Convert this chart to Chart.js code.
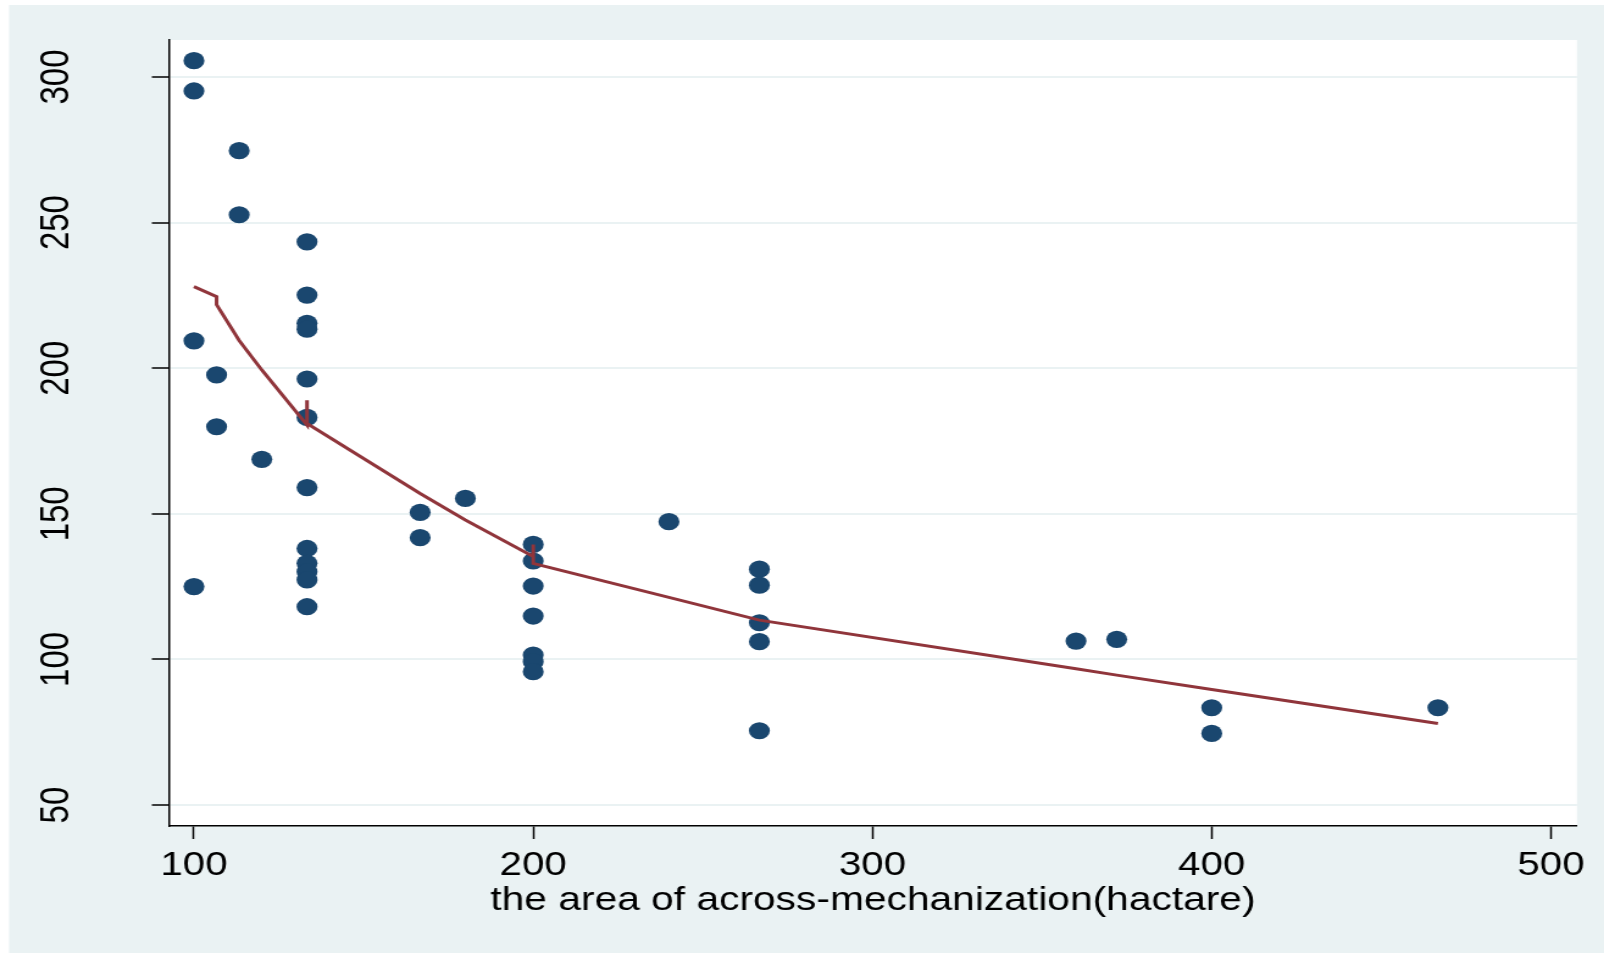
<!DOCTYPE html>
<html>
<head>
<meta charset="utf-8">
<script src="https://cdn.jsdelivr.net/npm/chart.js@4.4.1/dist/chart.umd.min.js"></script>
<style>
  html, body { margin: 0; padding: 0; background: #ffffff; overflow: hidden; }
  /* the original graph is stretched sideways, so the canvas is too */
  #myChart { display: block; transform: scaleX(1.2198); transform-origin: 0 0; }
</style>
</head>
<body>
<canvas id="myChart" width="1315" height="953"></canvas>
<script>
// observed points (area, value)
const pointX = [100, 100, 100, 100,
  106.67, 106.67,
  113.33, 113.33,
  120,
  133.33, 133.33, 133.33, 133.33, 133.33, 133.33, 133.33, 133.33, 133.33, 133.33, 133.33, 133.33,
  166.67, 166.67,
  180,
  200, 200, 200, 200, 200, 200, 200,
  240,
  266.67, 266.67, 266.67, 266.67, 266.67,
  360, 372,
  400, 400,
  466.67];
const pointY = [305.6, 295.2, 209.4, 125,
  197.7, 179.9,
  274.7, 252.7,
  168.7,
  243.4, 225.1, 215.4, 213.4, 196.3, 183.1, 159, 138.1, 133, 130.1, 127.3, 118.1,
  150.5, 141.8,
  155.3,
  139.5, 133.8, 125.2, 114.9, 101.5, 99.2, 95.8,
  147.3,
  131, 125.5, 112.6, 106.1, 75.5,
  106.3, 106.9,
  83.4, 74.6,
  83.4];

// fitted values (line), in plotting order
const fitX = [100, 106.67, 106.67, 113.33, 120, 133.33, 133.33, 133.33, 166.67, 180, 200, 200, 200, 240, 266.67, 360, 372, 400, 466.67];
const fitY = [228, 224.6, 221.8, 209.5, 199.4, 180.5, 189, 181, 157, 147.9, 135.3, 139.5, 133, 121.3, 113.5, 96.8, 94.6, 89.7, 78];

const xTicks = [100, 200, 300, 400, 500];
const yTicks = [50, 100, 150, 200, 250, 300];
const xTitle = 'the area of across-mechanization(hactare)';

var scatterData = [];
for (var i = 0; i < pointX.length; i++) {
	scatterData.push({ x : pointX[i], y : pointY[i] });
}
var fitData = [];
for (var j = 0; j < fitX.length; j++) {
	fitData.push({ x : fitX[j], y : fitY[j] });
}

// outer grey-blue background and white plot region
var bgPlugin = {
	id : 'bg',
	beforeDraw : function(chart) {
		var c = chart.ctx;
		var a = chart.chartArea;
		c.save();
		c.fillStyle = '#eaf2f3';
		c.fillRect(7.4, 5, chart.width, chart.height);
		c.fillStyle = '#ffffff';
		c.fillRect(a.left, a.top, a.right - a.left, a.bottom - a.top);
		c.restore();
	}
};

var font = { family : "'Liberation Sans', Arial, sans-serif", size : 33 };
var titleFont = { family : "'Liberation Sans', Arial, sans-serif", size : 33.4 };

var ctx = document.getElementById('myChart').getContext('2d');
var chart = new Chart(ctx, {
	type : 'scatter',
	data : {
		datasets : [ {
			type : 'line',
			data : fitData,
			borderColor : '#90353b',
			borderWidth : 3,
			pointRadius : 0,
			fill : false,
			tension : 0,
			order : 1
		}, {
			type : 'scatter',
			data : scatterData,
			backgroundColor : '#1a476f',
			borderWidth : 0,
			pointRadius : 8.6,
			pointHoverRadius : 8.6,
			order : 2
		} ]
	},
	options : {
		responsive : false,
		animation : false,
		layout : { padding : { left : 0, top : 40, right : 22.2, bottom : 0 } },
		plugins : { legend : { display : false }, tooltip : { enabled : false } },
		scales : {
			x : {
				type : 'linear',
				min : 92.63,
				max : 507.66,
				afterBuildTicks : function(s) {
					s.ticks = xTicks.map(function(v) { return { value : v }; });
				},
				afterFit : function(s) {
					s.height = 127;
					s.paddingLeft = 0;
					s.paddingRight = 0;
				},
				ticks : { font : font, color : '#000', padding : 7, maxRotation : 0 },
				grid : { drawOnChartArea : false, drawTicks : true, tickLength : 13, tickColor : '#000', tickWidth : 1.5 },
				border : { display : true, color : '#000', width : 1.5 },
				title : { display : true, text : xTitle, font : titleFont, color : '#000', padding : { top : 0, bottom : 32 } }
			},
			y : {
				type : 'linear',
				min : 42.8,
				max : 312.7,
				afterBuildTicks : function(s) {
					s.ticks = yTicks.map(function(v) { return { value : v }; });
				},
				afterFit : function(s) {
					s.width = 138.5;
					s.paddingTop = 0;
					s.paddingBottom = 0;
				},
				ticks : { font : font, color : '#000', padding : 50, minRotation : 90, maxRotation : 90, crossAlign : 'center' },
				grid : { color : '#eaf2f3', lineWidth : 2, drawTicks : true, tickLength : 14, tickColor : '#000', tickWidth : 1.5 },
				border : { display : true, color : '#000', width : 1.5 }
			}
		}
	},
	plugins : [ bgPlugin ]
});
</script>
</body>
</html>
